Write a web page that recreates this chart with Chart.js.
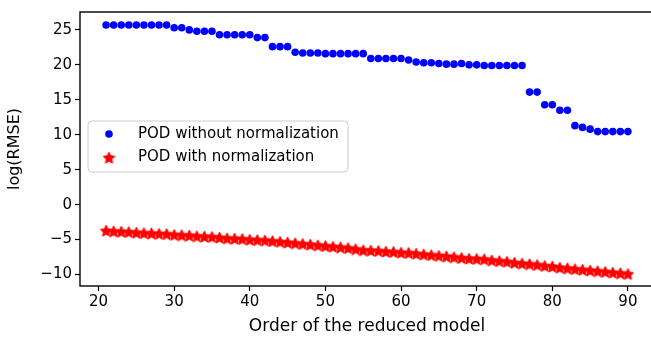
<!DOCTYPE html>
<html>
<head>
<meta charset="utf-8">
<script src="https://cdn.jsdelivr.net/npm/chart.js@4.4.0/dist/chart.umd.min.js"></script>
<style>
  html, body { margin: 0; padding: 0; overflow: hidden; background: #fff; }
  #wrap { width: 660px; height: 342px; }
</style>
</head>
<body>
<div id="wrap"><canvas id="chart" width="660" height="342"></canvas></div>
<script>
// model order on the x axis
const orders = [21, 22, 23, 24, 25, 26, 27, 28, 29, 30,
  31, 32, 33, 34, 35, 36, 37, 38, 39, 40,
  41, 42, 43, 44, 45, 46, 47, 48, 49, 50,
  51, 52, 53, 54, 55, 56, 57, 58, 59, 60,
  61, 62, 63, 64, 65, 66, 67, 68, 69, 70,
  71, 72, 73, 74, 75, 76, 77, 78, 79, 80,
  81, 82, 83, 84, 85, 86, 87, 88, 89, 90];

// log(RMSE), POD without normalization
const podRaw = [25.7, 25.7, 25.7, 25.7, 25.7, 25.7, 25.7, 25.7, 25.7, 25.3,
  25.3, 25.0, 24.8, 24.8, 24.8, 24.3, 24.3, 24.3, 24.3, 24.3,
  23.9, 23.9, 22.6, 22.6, 22.6, 21.8, 21.7, 21.7, 21.7, 21.6,
  21.6, 21.6, 21.6, 21.6, 21.6, 20.9, 20.9, 20.9, 20.9, 20.9,
  20.7, 20.4, 20.3, 20.3, 20.2, 20.1, 20.1, 20.2, 20.0, 20.0,
  19.9, 19.9, 19.9, 19.9, 19.9, 19.9, 16.1, 16.1, 14.3, 14.3,
  13.5, 13.5, 11.3, 11.05, 10.8, 10.45, 10.45, 10.45, 10.45, 10.45];

// log(RMSE), POD with normalization
const podNorm = [-3.7, -3.8, -3.85, -3.9, -4.0, -4.05, -4.1, -4.15, -4.2, -4.3,
  -4.35, -4.4, -4.5, -4.55, -4.6, -4.7, -4.8, -4.85, -4.9, -5.0,
  -5.05, -5.1, -5.2, -5.3, -5.4, -5.5, -5.6, -5.7, -5.8, -5.9,
  -6.0, -6.1, -6.2, -6.35, -6.5, -6.55, -6.6, -6.7, -6.75, -6.85,
  -6.9, -7.0, -7.1, -7.2, -7.3, -7.4, -7.5, -7.6, -7.7, -7.75,
  -7.8, -7.95, -8.05, -8.15, -8.3, -8.4, -8.5, -8.6, -8.75, -8.85,
  -9.0, -9.1, -9.2, -9.3, -9.4, -9.5, -9.6, -9.7, -9.8, -9.9];

const xTicks = [20, 30, 40, 50, 60, 70, 80, 90];
const yTicks = [-10, -5, 0, 5, 10, 15, 20, 25];

const FONT = { family: 'DejaVu Sans', size: 15 };

// filled five-point star, like the matplotlib '*' marker
function starImage(size, color) {
  const c = document.createElement('canvas');
  c.width = c.height = size;
  const g = c.getContext('2d');
  const cx = size / 2, cy = size / 2 + 0.7, ro = size / 2 - 0.3, ri = ro * 0.5;
  g.beginPath();
  for (let k = 0; k < 10; k++) {
    const r = k % 2 ? ri : ro;
    const a = -Math.PI / 2 + k * Math.PI / 5;
    g.lineTo(cx + r * Math.cos(a), cy + r * Math.sin(a));
  }
  g.closePath();
  g.fillStyle = color;
  g.fill();
  g.strokeStyle = color;
  g.lineWidth = 0.8;
  g.stroke();
  return c;
}
const star = starImage(13, '#ff0000');

const fmt = v => (v < 0 ? '\u2212' + Math.abs(v) : String(v));

// box around the plot area plus the legend in the middle-left
const framePlugin = {
  id: 'frame',
  afterDatasetsDraw(chart) {
    const { ctx, chartArea: a } = chart;
    ctx.save();
    ctx.strokeStyle = '#000';
    ctx.lineWidth = 1.4;
    ctx.strokeRect(a.left, a.top, a.right - a.left, a.bottom - a.top);

    // legend
    const lx = 88, ly = 121, lw = 260, lh = 51, r = 4;
    ctx.beginPath();
    ctx.moveTo(lx + r, ly);
    ctx.arcTo(lx + lw, ly, lx + lw, ly + lh, r);
    ctx.arcTo(lx + lw, ly + lh, lx, ly + lh, r);
    ctx.arcTo(lx, ly + lh, lx, ly, r);
    ctx.arcTo(lx, ly, lx + lw, ly, r);
    ctx.closePath();
    ctx.fillStyle = 'rgba(255,255,255,0.8)';
    ctx.fill();
    ctx.strokeStyle = '#cccccc';
    ctx.lineWidth = 1;
    ctx.stroke();

    ctx.fillStyle = '#0000ff';
    ctx.beginPath();
    ctx.arc(109, 134, 3.8, 0, Math.PI * 2);
    ctx.fill();
    ctx.drawImage(star, 109 - 6.5, 157.5 - 6.5);

    ctx.fillStyle = '#000';
    ctx.font = FONT.size + 'px ' + FONT.family;
    ctx.textBaseline = 'middle';
    ctx.fillText(chart.data.datasets[0].label, 138, 134);
    ctx.fillText(chart.data.datasets[1].label, 138, 157.5);
    ctx.restore();
  }
};

new Chart(document.getElementById('chart'), {
  type: 'scatter',
  data: {
    datasets: [{
      label: 'POD without normalization',
      data: orders.map((x, i) => ({ x: x, y: podRaw[i] })),
      pointStyle: 'circle',
      pointRadius: 3.8,
      backgroundColor: '#0000ff',
      borderWidth: 0
    }, {
      label: 'POD with normalization',
      data: orders.map((x, i) => ({ x: x, y: podNorm[i] })),
      pointStyle: star,
      backgroundColor: '#ff0000',
      borderWidth: 0
    }]
  },
  options: {
    responsive: false,
    animation: false,
    layout: { padding: { top: 6, right: 6, left: 0, bottom: 0 } },
    plugins: {
      legend: { display: false },
      tooltip: { enabled: false }
    },
    scales: {
      x: {
        type: 'linear',
        min: 17.55,
        max: 93.45,
        afterBuildTicks: s => { s.ticks = xTicks.map(v => ({ value: v })); },
        afterFit: s => { s.height = 56; },
        ticks: { font: FONT, color: '#000', padding: 2, maxRotation: 0, autoSkip: false, callback: fmt },
        grid: { drawOnChartArea: false, tickLength: 5, tickColor: '#000', tickWidth: 1.2 },
        border: { display: false },
        title: { display: true, text: 'Order of the reduced model', font: { family: 'DejaVu Sans', size: 17 }, color: '#000', padding: 5 }
      },
      y: {
        min: -11.64,
        max: 27.56,
        afterBuildTicks: s => { s.ticks = yTicks.map(v => ({ value: v })); },
        afterFit: s => { s.width = 80; },
        ticks: { font: FONT, color: '#000', padding: 3, autoSkip: false, callback: fmt },
        grid: { drawOnChartArea: false, tickLength: 5, tickColor: '#000', tickWidth: 1.2 },
        border: { display: false },
        title: { display: true, text: 'log(RMSE)', font: { family: 'DejaVu Sans', size: 16 }, color: '#000', padding: 5 }
      }
    }
  },
  plugins: [framePlugin]
});
</script>
</body>
</html>
